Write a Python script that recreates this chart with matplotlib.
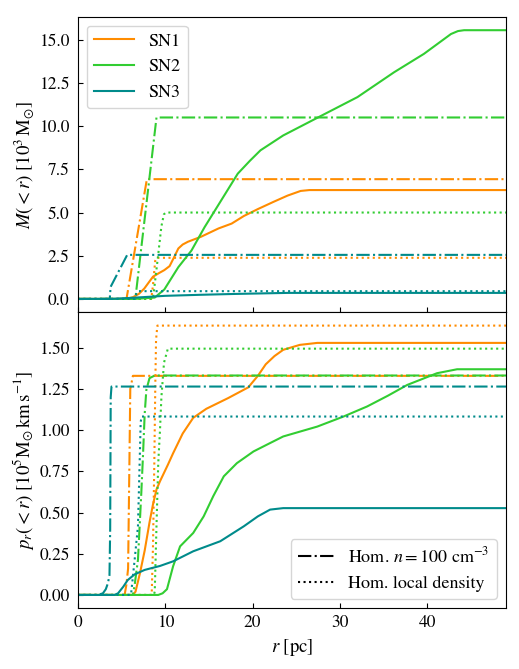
import matplotlib
matplotlib.use('Agg')
import matplotlib.pyplot as plt
from matplotlib.lines import Line2D
from matplotlib.ticker import FormatStrFormatter

plt.rcParams.update({
    'font.family': 'STIXGeneral', 'mathtext.fontset': 'stix', 'font.size': 12.5,
    'xtick.direction': 'in', 'ytick.direction': 'in',
    'ytick.major.pad': 6, 'xtick.major.pad': 5,
})

C1, C2, C3 = 'darkorange', 'limegreen', 'darkcyan'

# ---- top panel: enclosed mass M(<r) [1e3 Msun] ----
m1_r = [0, 5.5, 6.3, 7.0, 7.6, 8.6, 9.3, 9.9, 10.5, 11.0, 11.5, 12.0, 12.6, 14.1, 16.1, 17.6, 19.0, 20.6, 22.4, 24.0, 25.5, 26.5, 27.5, 50]
m1_v = [0, 0, 0.1, 0.3, 0.6, 1.29, 1.5, 1.67, 1.9, 2.4, 2.92, 3.15, 3.31, 3.6, 4.08, 4.36, 4.8, 5.2, 5.62, 5.98, 6.25, 6.3, 6.3, 6.3]
m2_r = [0, 6.5, 8.8, 9.9, 11.5, 13.0, 14.5, 16.4, 18.3, 19.7, 20.9, 23.5, 27.4, 32.0, 36.2, 39.6, 42.7, 43.5, 44.2, 50]
m2_v = [0, 0, 0.08, 0.55, 1.84, 2.8, 4.15, 5.7, 7.25, 8.0, 8.6, 9.46, 10.48, 11.68, 13.12, 14.18, 15.33, 15.5, 15.55, 15.55]
m3_r = [0, 4, 6, 8, 10, 14, 18, 22, 24, 50]
m3_v = [0, 0.01, 0.06, 0.12, 0.18, 0.24, 0.29, 0.33, 0.35, 0.35]

# homogeneous n=100 cm^-3
m1h_r = [0, 5.55, 5.6, 7.9, 50]
m1h_v = [0, 0, 0.1, 6.93, 6.93]
m2h_r = [0, 6.5, 6.6, 9.0, 50]
m2h_v = [0, 0, 0.1, 10.5, 10.5]
m3h_r = [0, 3.65, 3.75, 5.65, 50]
m3h_v = [0, 0, 0.7, 2.55, 2.55]

# homogeneous local density
m1l_r = [0, 8.4, 8.6, 8.85, 9.0, 50]
m1l_v = [0, 0, 0.8, 2.2, 2.38, 2.38]
m2l_r = [0, 8.6, 9.17, 9.56, 9.85, 10.1, 50]
m2l_v = [0, 0, 2.45, 4.2, 4.9, 5.0, 5.0]
m3l_r = [0, 6.5, 6.7, 6.9, 50]
m3l_v = [0, 0, 0.3, 0.45, 0.45]

# ---- bottom panel: radial momentum p_r(<r) [1e5 Msun km/s] ----
p1_r = [0, 6.3, 6.6, 7.1, 7.65, 8.2, 8.6, 9.0, 9.4, 10.3, 10.9, 12.0, 13.2, 14.7, 17.2, 19.5, 20.6, 21.5, 22.5, 23.5, 25.4, 27.4, 50]
p1_v = [0, 0, 0.02, 0.13, 0.27, 0.44, 0.55, 0.64, 0.69, 0.79, 0.86, 0.98, 1.075, 1.13, 1.195, 1.26, 1.33, 1.4, 1.45, 1.488, 1.518, 1.53, 1.53]
p2_r = [0, 9.2, 9.7, 10.2, 10.9, 11.7, 13.2, 14.4, 15.5, 16.7, 18.2, 20.1, 22.0, 23.5, 27.4, 30.4, 33.1, 35.5, 37.7, 41.1, 43.4, 44.5, 50]
p2_v = [0, 0, 0.01, 0.035, 0.174, 0.295, 0.376, 0.477, 0.6, 0.72, 0.80, 0.871, 0.922, 0.962, 1.022, 1.083, 1.144, 1.21, 1.275, 1.346, 1.37, 1.37, 1.37]
p3_r = [0, 4.2, 4.6, 5.2, 5.7, 6.5, 7.65, 9.4, 10.9, 13.2, 16.3, 19.0, 20.6, 22.0, 23.5, 50]
p3_v = [0, 0, 0.01, 0.05, 0.09, 0.125, 0.152, 0.176, 0.204, 0.265, 0.326, 0.417, 0.477, 0.518, 0.527, 0.527]

p1h_r = [0, 5.35, 5.55, 5.75, 5.9, 6.0, 6.3, 50]
p1h_v = [0, 0, 0.06, 0.16, 0.8, 1.25, 1.33, 1.33]
p2h_r = [0, 6.3, 6.5, 6.88, 7.26, 7.45, 7.65, 7.84, 8.2, 8.8, 50]
p2h_v = [0, 0, 0.06, 0.214, 0.618, 0.84, 1.10, 1.245, 1.316, 1.332, 1.332]
p3h_r = [0, 2.3, 2.87, 3.2, 3.44, 3.62, 3.7, 3.76, 3.85, 50]
p3h_v = [0, 0, 0.01, 0.035, 0.071, 0.12, 0.4, 1.2, 1.265, 1.265]

p1l_r = [0, 8.45, 8.6, 8.75, 8.87, 8.95, 9.1, 50]
p1l_v = [0, 0, 0.3, 0.8, 1.3, 1.55, 1.635, 1.635]
p2l_r = [0, 8.7, 8.8, 9.0, 9.2, 9.4, 9.56, 9.86, 10.3, 50]
p2l_v = [0, 0, 0.02, 0.42, 0.8, 1.0, 1.2, 1.41, 1.495, 1.495]
p3l_r = [0, 6.0, 6.1, 6.5, 6.88, 7.07, 7.19, 7.3, 50]
p3l_v = [0, 0, 0.01, 0.214, 0.417, 0.8, 1.05, 1.083, 1.083]

fig, (ax1, ax2) = plt.subplots(2, 1, sharex=True, figsize=(5.19, 6.69), dpi=100)
fig.subplots_adjust(left=0.150, right=0.975, top=0.975, bottom=0.091, hspace=0)

lw = 1.5
top = [(C1, m1_r, m1_v, m1h_r, m1h_v, m1l_r, m1l_v, 'SN1'),
       (C2, m2_r, m2_v, m2h_r, m2h_v, m2l_r, m2l_v, 'SN2'),
       (C3, m3_r, m3_v, m3h_r, m3h_v, m3l_r, m3l_v, 'SN3')]
for c, r, v, rh, vh, rl, vl, lab in top:
    ax1.plot(r, v, color=c, lw=lw, label=lab)
    ax1.plot(rh, vh, color=c, lw=lw, ls='-.')
    ax1.plot(rl, vl, color=c, lw=lw, ls=':')

bot = [(C1, p1_r, p1_v, p1h_r, p1h_v, p1l_r, p1l_v),
       (C2, p2_r, p2_v, p2h_r, p2h_v, p2l_r, p2l_v),
       (C3, p3_r, p3_v, p3h_r, p3h_v, p3l_r, p3l_v)]
for c, r, v, rh, vh, rl, vl in bot:
    ax2.plot(r, v, color=c, lw=lw)
    ax2.plot(rh, vh, color=c, lw=lw, ls='-.')
    ax2.plot(rl, vl, color=c, lw=lw, ls=':')

ax1.set_xlim(0, 49)
ax1.set_ylim(-0.78, 16.33)
ax2.set_ylim(-0.08, 1.715)
ax1.set_yticks([0, 2.5, 5, 7.5, 10, 12.5, 15])
ax1.yaxis.set_major_formatter(FormatStrFormatter('%.1f'))
ax2.set_yticks([0, 0.25, 0.5, 0.75, 1.0, 1.25, 1.5])
ax2.yaxis.set_major_formatter(FormatStrFormatter('%.2f'))
ax2.set_xticks([0, 10, 20, 30, 40])

ax1.set_ylabel(r'$M(<r)$ [$10^3\,\mathrm{M}_{\odot}$]', fontsize=13.5, labelpad=2)
ax2.set_ylabel(r'$p_r(<r)$ [$10^5\mathrm{M}_{\odot}\,\mathrm{km\,s}^{-1}$]', fontsize=13.5, labelpad=2)
ax2.set_xlabel(r'$r$ [pc]', fontsize=13.5)
fig.align_ylabels([ax1, ax2])

ax1.legend(loc='upper left', fontsize=13, handlelength=2.2)
handles = [Line2D([], [], color='black', lw=lw, ls='-.'),
           Line2D([], [], color='black', lw=lw, ls=':')]
ax2.legend(handles, [r'Hom. $n = 100$ cm$^{-3}$', 'Hom. local density'],
           loc='lower right', fontsize=13)

fig.savefig('out.png', dpi=100)
